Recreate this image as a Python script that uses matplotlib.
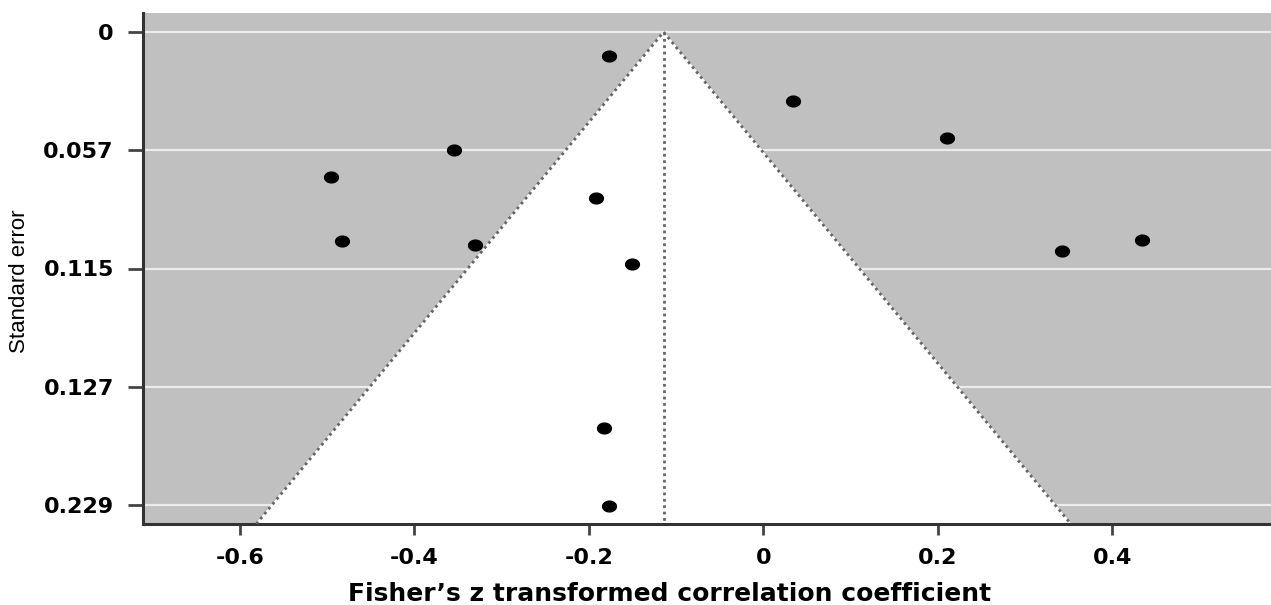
import numpy as np
import matplotlib
matplotlib.use('Agg')
import matplotlib.pyplot as plt
from matplotlib import font_manager

# study estimates (Fisher z) and their standard errors
z_values = [-0.177, 0.034, 0.211, -0.354, -0.496, -0.192, -0.483, -0.330,
            0.434, 0.342, -0.151, -0.182, -0.177]
std_errors = [0.0116, 0.0334, 0.0513, 0.0571, 0.0702, 0.0804, 0.1012, 0.1031,
              0.1007, 0.1060, 0.1123, 0.1917, 0.2295]

pooled = -0.1143
y_tick_pos = [0, 0.05725, 0.1145, 0.17175, 0.229]
y_tick_labels = ['0', '0.057', '0.115', '0.127', '0.229']
x_ticks = [-0.6, -0.4, -0.2, 0, 0.2, 0.4]
x_tick_labels = ['-0.6', '-0.4', '-0.2', '0', '0.2', '0.4']

xlim = (-0.711, 0.582)
ylim = (0.2382, -0.0092)

W, H = 1271, 605
fig = plt.figure(figsize=(W / 100, H / 100), dpi=100)
ax = fig.add_axes([143 / W, 1 - 524 / H, 1 - 143 / W, (524 - 13) / H])
ax.set_facecolor('#c0c0c0')
ax.set_xlim(*xlim)
ax.set_ylim(*ylim)

# white gridlines
for yp in y_tick_pos:
    ax.axhline(yp, color='#ececec', lw=1.6, zorder=1)

# white funnel (pseudo 95% region)
se_max = ylim[0]
fx = [pooled - 1.96 * se_max, pooled, pooled + 1.96 * se_max]
fy = [se_max, 0, se_max]
ax.fill(fx, fy, color='white', zorder=2)
dots = (0, (1, 1.3))
ax.plot(fx, fy, color='#666666', lw=2.0, ls=dots, zorder=3)
ax.plot([pooled, pooled], [0, se_max], color='#666666', lw=2.0, ls=dots, zorder=3)

# slightly flattened dots, as in the original
t = np.linspace(0, 2 * np.pi, 40)
ellipse = np.column_stack([np.cos(t), 0.8 * np.sin(t)])
ax.scatter(z_values, std_errors, s=120, marker=ellipse, color='black',
           linewidths=0, zorder=4)

for side in ['top', 'right']:
    ax.spines[side].set_visible(False)
for side in ['left', 'bottom']:
    ax.spines[side].set_color('#333333')
    ax.spines[side].set_linewidth(2.2)

ax.set_yticks(y_tick_pos)
ax.set_yticklabels(y_tick_labels)
ax.set_xticks(x_ticks)
ax.set_xticklabels(x_tick_labels)
ax.tick_params(axis='y', direction='out', length=11, width=2, color='#444444',
               labelsize=16, pad=10)
ax.tick_params(axis='x', direction='out', length=8, width=2, color='#444444',
               labelsize=16, pad=9)
for lab in ax.get_xticklabels() + ax.get_yticklabels():
    lab.set_fontfamily('DejaVu Sans')
    lab.set_fontweight('bold')

fig.text(670 / W, 1 - 601 / H, "Fisher\u2019s z transformed correlation coefficient",
         fontsize=18, fontweight='bold', family='DejaVu Sans',
         ha='center', va='baseline')

names = {f.name for f in font_manager.fontManager.ttflist}
if 'Liberation Sans Narrow' in names:
    ylab_font, ylab_size = 'Liberation Sans Narrow', 19
else:
    ylab_font, ylab_size = 'Liberation Sans', 16
fig.text(20 / W, 1 - 281 / H, 'Standard error', rotation=90,
         fontsize=ylab_size, family=ylab_font, ha='center', va='center')

fig.savefig('out.png', dpi=100)
